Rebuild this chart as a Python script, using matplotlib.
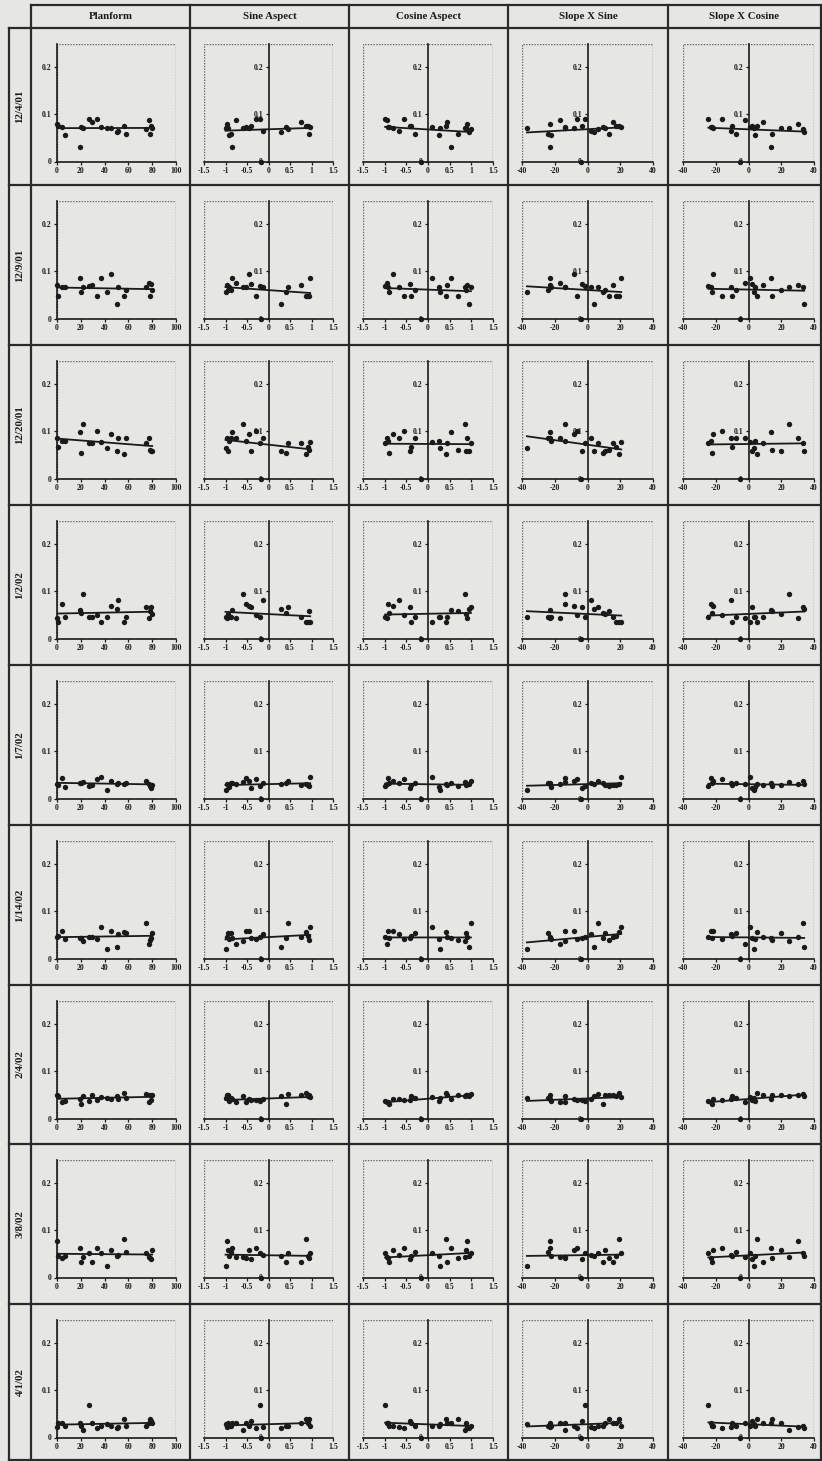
import numpy as np
import matplotlib
matplotlib.use('Agg')
from matplotlib import pyplot as plt
from matplotlib.lines import Line2D
from matplotlib.patches import Rectangle

# headings of the table
columns = ['Planform', 'Sine Aspect', 'Cosine Aspect', 'Slope X Sine', 'Slope X Cosine']
dates = ['12/4/01', '12/9/01', '12/20/01', '1/2/02', '1/7/02', '1/14/02', '2/4/02', '3/8/02', '4/1/02']

# site properties (same site order in every list, nan = no value)
planform = [0, 1, 4, 7, 19, 20, 22, 27, 29, 34, 37, 42, 45, 50, 51, 56, 58, 75, 77, 78, 79, 80, np.nan]
sine_aspect = [-0.97, 0.92, -0.52, -0.93, -0.85, 0.4, -0.6, -0.2, 0.75, -0.3, 0.97, -1.0,
               -0.45, 0.3, -0.13, 0.88, -0.88, 0.45, -0.75, 0.95, -0.4, -0.95, -0.17]
cosine_aspect = [0.9, -0.4, -0.93, 0.26, 0.53, -0.91, 0.85, -0.99, 0.43, -0.56, 0.1, 0.28,
                 -0.8, 0.95, -0.67, 0.41, -0.3, 0.99, -0.95, 0.7, -0.42, 0.88, -0.17]
slope_x_sine = [-23, 17.4, -13.6, -22, -22.7, 9.7, -14, -1.4, 15.8, -6.5, 20.6, -37,
                -8, 4, 2, 19, -24, 6.7, -17, 13, -3.4, 10.7, -4]
slope_x_cosine = [30.5, -10, -23, 4, 14, -22, 25, -24.5, 9, -16.3, 1.2, 3.3,
                  -21.4, 34, -10.7, 5.4, -7.4, 33, -2, 14.5, 2, 20, -5]

# measured values for each date
y_120401 = [0.080, 0.076, 0.073, 0.057, 0.030, 0.073, 0.070, 0.089, 0.084, 0.089, 0.073, 0.072,
            0.072, 0.063, 0.065, 0.075, 0.059, 0.068, 0.087, 0.059, 0.075, 0.071, 0.0]
y_120901 = [0.072, 0.047, 0.066, 0.066, 0.085, 0.056, 0.066, 0.068, 0.072, 0.047, 0.085, 0.056,
            0.094, 0.030, 0.066, 0.047, 0.061, 0.066, 0.075, 0.047, 0.073, 0.061, 0.0]
y_122001 = [0.086, 0.066, 0.080, 0.079, 0.099, 0.054, 0.115, 0.075, 0.075, 0.100, 0.077, 0.065,
            0.094, 0.058, 0.085, 0.052, 0.085, 0.075, 0.085, 0.061, 0.059, 0.059, 0.0]
y_010202 = [0.044, 0.034, 0.073, 0.046, 0.060, 0.053, 0.094, 0.046, 0.046, 0.050, 0.036, 0.046,
            0.069, 0.062, 0.082, 0.034, 0.046, 0.066, 0.043, 0.059, 0.066, 0.051, 0.0]
y_010702 = [0.030, 0.028, 0.044, 0.024, 0.033, 0.033, 0.035, 0.026, 0.028, 0.042, 0.045, 0.017,
            0.038, 0.030, 0.033, 0.031, 0.032, 0.037, 0.030, 0.027, 0.023, 0.028, 0.0]
y_011402 = [0.045, 0.047, 0.058, 0.042, 0.044, 0.044, 0.038, 0.045, 0.045, 0.042, 0.066, 0.021,
            0.059, 0.024, 0.052, 0.056, 0.054, 0.075, 0.031, 0.040, 0.044, 0.054, 0.0]
y_020402 = [0.050, 0.048, 0.036, 0.038, 0.042, 0.030, 0.047, 0.038, 0.050, 0.040, 0.046, 0.044,
            0.042, 0.048, 0.041, 0.055, 0.044, 0.052, 0.035, 0.050, 0.040, 0.049, 0.0]
y_030802 = [0.077, 0.046, 0.041, 0.046, 0.062, 0.032, 0.044, 0.051, 0.032, 0.062, 0.051, 0.025,
            0.058, 0.046, 0.048, 0.081, 0.053, 0.051, 0.044, 0.041, 0.039, 0.058, 0.0]
y_040102 = [0.022, 0.030, 0.030, 0.025, 0.030, 0.025, 0.015, 0.068, 0.030, 0.020, 0.025, 0.028,
            0.025, 0.020, 0.022, 0.040, 0.025, 0.025, 0.030, 0.040, 0.035, 0.030, 0.0]

x_data = [planform, sine_aspect, cosine_aspect, slope_x_sine, slope_x_cosine]
y_data = [y_120401, y_120901, y_122001, y_010202, y_010702, y_011402, y_020402, y_030802, y_040102]

# axis ranges and tick labels for each column
xlims = [(0, 100), (-1.5, 1.5), (-1.5, 1.5), (-40, 40), (-40, 40)]
xticks = [[0, 20, 40, 60, 80, 100],
          [-1.5, -1, -0.5, 0, 0.5, 1, 1.5],
          [-1.5, -1, -0.5, 0, 0.5, 1, 1.5],
          [-40, -20, 0, 20, 40],
          [-40, -20, 0, 20, 40]]
xticklabels = [['0', '20', '40', '60', '80', '100'],
               ['-1.5', '-1', '-0.5', '0', '0.5', '1', '1.5'],
               ['-1.5', '-1', '-0.5', '0', '0.5', '1', '1.5'],
               ['-40', '-20', '0', '20', '40'],
               ['-40', '-20', '0', '20', '40']]

W, H = 822, 1461
bg = '#e6e6e4'
ink = '#1a1a1a'
serif = ['Liberation Serif', 'DejaVu Serif']

fig = plt.figure(figsize=(W / 100, H / 100), dpi=100, facecolor=bg)


def hline(y, x0, x1):
    fig.add_artist(Line2D([x0 / W, x1 / W], [1 - y / H, 1 - y / H], color='#2a2a2a', lw=1.6))


def vline(x, y0, y1):
    fig.add_artist(Line2D([x / W, x / W], [1 - y0 / H, 1 - y1 / H], color='#2a2a2a', lw=1.6))


# table lines
col_edges = [31, 190, 349, 508, 668, 821]
row_edges = [28, 185, 345, 505, 665, 825, 985, 1144, 1304, 1460]
hline(5, 31, 821)
for y in row_edges:
    hline(y, 9, 821)
vline(9, 28, 1460)
for x in col_edges:
    vline(x, 5, 1460)

# headings
for j, name in enumerate(columns):
    cx = (col_edges[j] + col_edges[j + 1]) / 2
    fig.text(cx / W, 1 - 16.5 / H, name, ha='center', va='center', fontsize=7.8,
             fontweight='bold', family=serif, color=ink)
for i, d in enumerate(dates):
    cy = (row_edges[i] + row_edges[i + 1]) / 2
    fig.text(20 / W, 1 - cy / H, d, ha='center', va='center', rotation=90, fontsize=7.8,
             fontweight='bold', family=serif, color=ink)

# axes placement in pixels
ax_left = [57, 204, 363, 522, 683]
ax_width = [119, 129, 130, 131, 131]
ax_height = 118

for i in range(len(dates)):
    top = row_edges[i] + 15.5
    y = np.array(y_data[i], dtype=float)
    for j in range(len(columns)):
        x = np.array(x_data[j], dtype=float)
        ax = fig.add_axes([ax_left[j] / W, 1 - (top + ax_height) / H, ax_width[j] / W, ax_height / H])
        ax.set_facecolor(bg)
        ax.set_xlim(*xlims[j])
        ax.set_ylim(0, 0.25)
        # dotted frame of the plot area
        ax.add_patch(Rectangle((0, 0), 1, 1, transform=ax.transAxes, fill=False,
                               ls=(0, (1, 1)), lw=1.0, ec='#666666', zorder=1))
        for s in ['top', 'right']:
            ax.spines[s].set_visible(False)
        ax.spines['left'].set_position(('data', 0))
        ax.spines['left'].set_color(ink)
        ax.spines['bottom'].set_color(ink)
        ax.spines['left'].set_linewidth(1.2)
        ax.spines['bottom'].set_linewidth(1.2)
        ax.set_xticks(xticks[j])
        ax.set_xticklabels(xticklabels[j])
        ax.set_yticks([0, 0.1, 0.2])
        ax.set_yticklabels(['0', '0.1', '0.2'])
        ax.tick_params(axis='both', direction='out', length=2.5, width=0.9, color=ink,
                       labelsize=5.6, pad=1.5, labelcolor=ink)
        for lab in ax.get_xticklabels() + ax.get_yticklabels():
            lab.set_fontweight('bold')
            lab.set_family(serif)
        # points and fitted line
        ok = ~np.isnan(x)
        ax.scatter(x[ok], y[ok], s=15, color=ink, zorder=4, clip_on=False, lw=0)
        b, a = np.polyfit(x[ok], y[ok], 1)
        xs = np.array([x[ok].min(), x[ok].max()])
        ax.plot(xs, a + b * xs, color=ink, lw=1.3, zorder=3)

plt.savefig('out.png', dpi=100, facecolor=bg)
